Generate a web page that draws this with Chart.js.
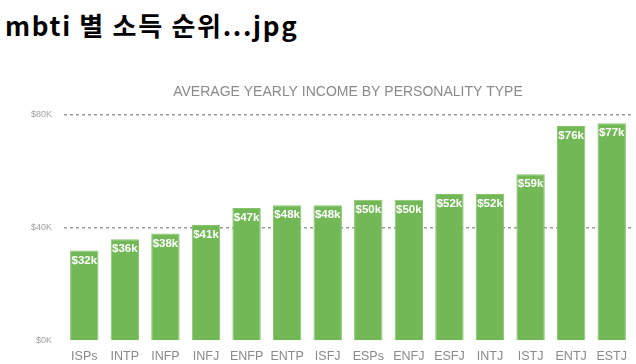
<!DOCTYPE html>
<html>
<head>
<meta charset="utf-8">
<script src="https://cdn.jsdelivr.net/npm/chart.js@4"></script>
<style>
  body { margin: 0; background: #fff; width: 636px; height: 364px; overflow: hidden; position: relative; }
  #heading { position: absolute; left: 5px; top: 7px; font-family: "Noto Sans CJK KR", sans-serif; font-weight: 700; font-size: 26px; letter-spacing: 1.7px; color: #000; line-height: 36px; }
  #wrap { position: absolute; left: 0; top: 76px; width: 636px; height: 288px; }
</style>
</head>
<body>
<div id="heading">mbti 별 소득 순위...jpg</div>
<div id="wrap"><canvas id="incomeChart"></canvas></div>
<script>
const types = ['ISPs', 'INTP', 'INFP', 'INFJ', 'ENFP', 'ENTP', 'ISFJ', 'ESPs', 'ENFJ', 'ESFJ', 'INTJ', 'ISTJ', 'ENTJ', 'ESTJ'];
const incomeK = [32, 36, 38, 41, 47, 48, 48, 50, 50, 52, 52, 59, 76, 77];
const yTicks = [0, 40, 80];

// white value labels inside the top of each bar
const barLabels = {
    id: 'barLabels',
    afterDatasetsDraw(chart) {
        const ctx = chart.ctx;
        const meta = chart.getDatasetMeta(0);
        ctx.save();
        ctx.fillStyle = '#fff';
        ctx.font = 'bold 11.5px "Liberation Sans", Arial, sans-serif';
        ctx.textAlign = 'center';
        ctx.textBaseline = 'middle';
        meta.data.forEach((bar, i) => {
            ctx.fillText('$' + incomeK[i] + 'k', bar.x, bar.y + 10);
        });
        ctx.restore();
    }
};

new Chart(document.getElementById('incomeChart'), {
    type: 'bar',
    data: {
        labels: types,
        datasets: [{
            data: incomeK,
            backgroundColor: '#73b857',
            borderColor: '#86c46c',
            borderWidth: 1,
            barPercentage: 0.7,
            categoryPercentage: 1.0
        }]
    },
    options: {
        responsive: true,
        maintainAspectRatio: false,
        animation: false,
        layout: { padding: { left: 0, right: 4, top: 4, bottom: 0 } },
        plugins: {
            legend: { display: false },
            tooltip: { enabled: false },
            title: {
                display: true,
                text: 'AVERAGE YEARLY INCOME BY PERSONALITY TYPE',
                fullSize: false,
                color: '#8a8a8a',
                font: { family: '"Liberation Sans", Arial, sans-serif', size: 14, weight: 'normal' },
                padding: { top: 4, bottom: 14 }
            }
        },
        scales: {
            x: {
                grid: { display: false },
                border: { display: false },
                ticks: {
                    color: '#8a8a8a',
                    font: { family: '"Liberation Sans", Arial, sans-serif', size: 12.5 },
                    padding: 0,
                    maxRotation: 0,
                    autoSkip: false
                }
            },
            y: {
                min: 0,
                max: 80,
                afterBuildTicks: axis => { axis.ticks = yTicks.map(v => ({ value: v })); },
                afterFit: axis => { axis.width = 64; },
                border: { display: false, dash: [3, 3] },
                grid: {
                    color: c => c.tick && c.tick.value === 0 ? 'rgba(0,0,0,0)' : '#9a9a9a',
                    lineWidth: 1.5,
                    drawTicks: false
                },
                ticks: {
                    color: '#a0a0a0',
                    font: { family: '"Liberation Sans", Arial, sans-serif', size: 9 },
                    padding: 12,
                    callback: v => '$' + v + 'K'
                }
            }
        }
    },
    plugins: [barLabels]
});
</script>
</body>
</html>
